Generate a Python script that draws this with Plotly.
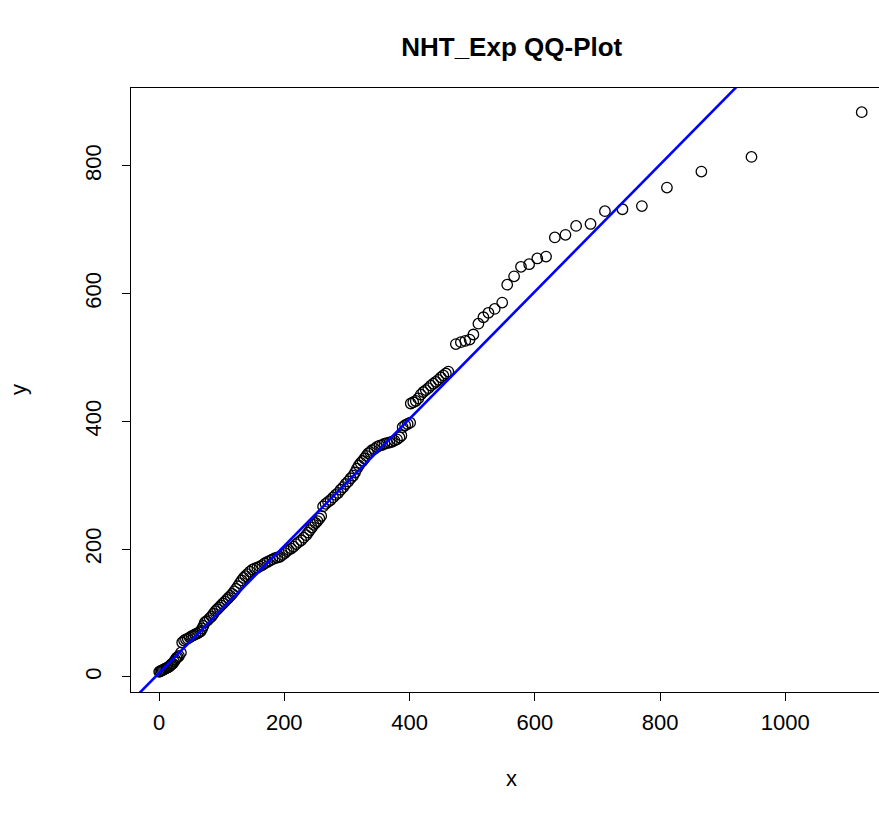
import plotly.graph_objects as go

# Theoretical exponential quantiles (x) and sorted sample values (y)
theoretical_q = [
    0.3, 2, 4, 6, 8, 10, 12, 14, 16, 18, 20, 22, 24, 26, 28, 30, 32, 35,
    37, 40, 43, 46, 49, 52, 55, 58, 61, 64, 67, 69, 71, 73, 75, 78, 81, 84,
    87, 90, 93, 96, 99, 102, 105, 108, 111, 114, 117,
    120, 123, 126, 129, 132, 135, 138, 141, 145, 149, 153, 157, 161, 165,
    169, 173, 177, 181, 185, 189, 193, 197, 201, 204, 207, 211, 215, 219,
    223, 227, 231, 235, 238, 241, 244, 247, 250, 253, 256, 259,
    262, 266, 270, 274, 278, 282, 286, 290, 294, 298, 302, 306, 310, 313,
    316, 319, 322, 325, 328, 331, 334, 337, 340, 344, 348, 352, 356, 360,
    364, 368, 372, 376, 380, 384, 387,
    389, 393, 397, 401,
    402, 406, 410, 414, 418, 422, 426, 430, 434, 438, 442, 446, 450, 454,
    458, 462,
    474, 482, 489, 496, 502, 510, 518, 526, 536, 548, 556, 567, 578, 591,
    604, 618, 632, 649, 666, 689, 712, 740, 771, 811, 866, 946, 1122,
]
sample_q = [
    8, 9, 10, 11, 12, 13, 14, 15, 16, 18, 20, 21, 24, 27, 30, 31, 33, 38,
    54, 57, 59, 60, 62, 64, 65, 67, 68, 70, 72, 76, 80, 85, 87, 89, 92, 95,
    99, 103, 106, 109, 112, 115, 118, 121, 124, 127, 130,
    134, 138, 142, 147, 151, 155, 158, 161, 165, 168, 170, 171, 173, 175,
    178, 180, 182, 184, 186, 187, 188, 191, 194, 197, 199, 201, 204, 208,
    211, 214, 218, 222, 226, 230, 234, 238, 241, 244, 248, 252,
    267, 271, 274, 277, 281, 285, 288, 293, 297, 302, 306, 311, 315, 320,
    326, 331, 335, 338, 342, 346, 350, 352, 355, 357, 360, 362, 363, 365,
    366, 367, 368, 370, 372, 375, 378,
    391, 394, 396, 398,
    428, 430, 432, 436, 442, 446, 449, 452, 456, 459, 462, 465, 469, 472,
    475, 478,
    521, 524, 526, 528, 536, 553, 563, 570, 576, 586, 614, 627, 642, 646,
    655, 658, 688, 692, 706, 709, 729, 732, 737, 766, 791, 814, 884,
]

# Reference line parameters
line_intercept = 6.0
line_slope = 0.995

x_ticks = [0, 200, 400, 600, 800, 1000]
y_ticks = [0, 200, 400, 600, 800]

x_range = [-44.7, 1149.6]
y_range = [-23.5, 921.8]

FONT = "Liberation Sans, Arial, Helvetica, sans-serif"

fig = go.Figure()

fig.add_trace(go.Scatter(
    x=theoretical_q, y=sample_q, mode="markers",
    marker=dict(symbol="circle-open", size=10.5, color="black",
                line=dict(width=1.3, color="black")),
    hoverinfo="x+y", showlegend=False,
))

line_x = [x_range[0] - 50, x_range[1] + 50]
line_y = [line_intercept + line_slope * v for v in line_x]
fig.add_trace(go.Scatter(
    x=line_x, y=line_y, mode="lines",
    line=dict(color="#0000FF", width=2.6),
    hoverinfo="skip", showlegend=False,
))

axis_common = dict(
    showgrid=False, zeroline=False, showline=True, linecolor="black",
    linewidth=1, ticks="outside", ticklen=8, tickwidth=1, tickcolor="black",
    tickfont=dict(family=FONT, size=22, color="black"),
)

fig.update_layout(
    width=879, height=816,
    margin=dict(l=131, r=0, t=88, b=124),
    paper_bgcolor="white", plot_bgcolor="white",
    xaxis=dict(range=x_range, tickvals=x_ticks, mirror=True,
               ticklabelstandoff=3, **axis_common),
    yaxis=dict(range=y_range, tickvals=y_ticks, tickangle=-90, mirror=False,
               ticklabelstandoff=12, **axis_common),
    title=dict(text="<b>NHT_Exp QQ-Plot</b>", x=0.509, xref="paper",
               xanchor="center", y=1 - 47 / 816, yref="container",
               yanchor="middle",
               font=dict(family=FONT, size=26, color="black")),
    annotations=[
        dict(text="x", xref="paper", yref="paper", x=0.509, y=-0.1424,
             showarrow=False, xanchor="center", yanchor="middle",
             font=dict(family=FONT, size=22, color="black")),
        dict(text="y", xref="paper", yref="paper", x=-0.151, y=0.5,
             textangle=-90, showarrow=False, xanchor="center",
             yanchor="middle",
             font=dict(family=FONT, size=22, color="black")),
    ],
)

fig.write_html("out.html")
